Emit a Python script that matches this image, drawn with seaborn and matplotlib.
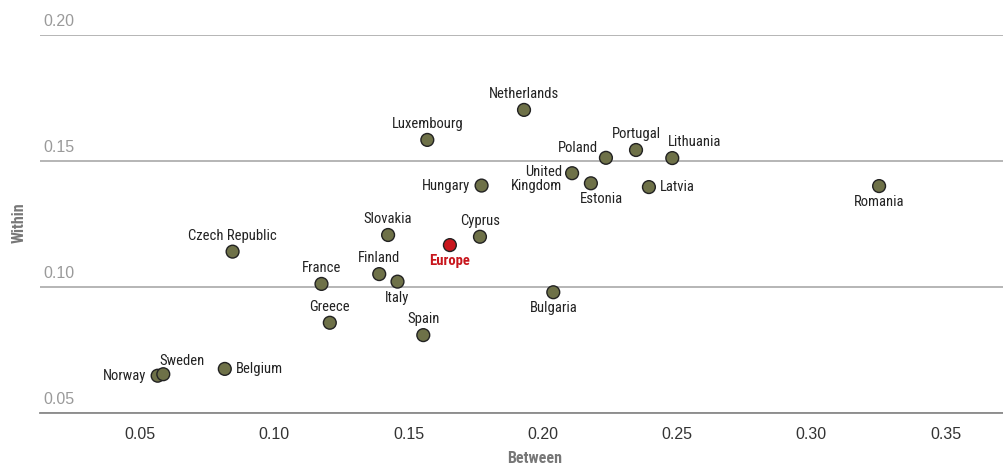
import matplotlib
matplotlib.use("Agg")
import matplotlib.pyplot as plt
import seaborn as sns
import pandas as pd

countries = ["Netherlands", "Luxembourg", "Poland", "Portugal", "Lithuania",
             "United\nKingdom", "Estonia", "Latvia", "Hungary", "Romania",
             "Slovakia", "Cyprus", "Czech Republic", "Europe", "Finland",
             "Italy", "France", "Bulgaria", "Greece", "Spain",
             "Norway", "Sweden", "Belgium"]
between = [0.193, 0.157, 0.2235, 0.2347, 0.2482,
           0.2109, 0.2179, 0.2395, 0.1772, 0.3252,
           0.1424, 0.1766, 0.0845, 0.1654, 0.1391,
           0.1459, 0.1176, 0.2039, 0.1207, 0.1555,
           0.0566, 0.0587, 0.0816]
within = [0.1703, 0.1584, 0.1513, 0.1544, 0.1512,
          0.1452, 0.1412, 0.1397, 0.1403, 0.1401,
          0.1207, 0.1200, 0.1141, 0.1167, 0.1052,
          0.1022, 0.1013, 0.0980, 0.0859, 0.0810,
          0.0649, 0.0655, 0.0676]
placement = ["above", "above", "upleft", "above", "upright",
             "uk", "estonia", "right", "left", "below",
             "above", "above", "above", "below", "above",
             "below", "above", "below", "above", "above",
             "left", "sweden", "right"]
y_ticks = [0.05, 0.10, 0.15, 0.20]
x_ticks = [0.05, 0.10, 0.15, 0.20, 0.25, 0.30, 0.35]

df = pd.DataFrame({"country": countries, "Between": between, "Within": within})
df["group"] = ["Europe" if c == "Europe" else "Country" for c in countries]

sns.set_theme(style="white")
cond = ["Roboto Condensed", "Archivo Narrow", "PT Sans Narrow", "DejaVu Sans"]
plt.rcParams["font.family"] = ["Liberation Sans", "DejaVu Sans"]

fig = plt.figure(figsize=(10.04, 4.66), dpi=100)
ax = fig.add_axes([40 / 1004, (466 - 413.3) / 466, 964 / 1004, (413.3 - 35) / 466])

olive = "#6e7148"
red = "#c8161d"
sns.scatterplot(data=df, x="Between", y="Within", hue="group",
                palette={"Country": olive, "Europe": red},
                s=85, edgecolor="#222222", linewidth=1.0, legend=False,
                ax=ax, zorder=3, clip_on=False)

ax.set_xlim(0.0128, 0.3717)
ax.set_ylim(0.05, 0.20)
ax.set_yticks(y_ticks)
ax.set_yticklabels([])
ax.tick_params(axis="y", length=0)
ax.set_xticks(x_ticks)
ax.set_xticklabels([f"{v:.2f}" for v in x_ticks], fontsize=11.5, color="#333333")
ax.tick_params(axis="x", length=0, pad=10)
ax.grid(axis="y", color="#b0b0b0", linewidth=1.3)
ax.grid(axis="x", visible=False)
for s in ["top", "right", "left"]:
    ax.spines[s].set_visible(False)
ax.spines["bottom"].set_color("#8a8a8a")
ax.spines["bottom"].set_linewidth(1.3)

ytr = ax.get_yaxis_transform()
for v in y_ticks:
    ax.annotate(f"{v:.2f}", xy=(0, v), xycoords=ytr, xytext=(3, 6),
                textcoords="offset pixels", ha="left", va="bottom",
                fontsize=11.5, color="#9a9a9a")

ax.set_xlabel("Between", fontsize=11.5, fontweight="bold", color="#777777",
              family=cond)
ax.xaxis.set_label_coords((535 - 40) / 964, -(451 - 413.3) / 378.3)
ax.set_ylabel("Within", fontsize=11.5, fontweight="bold", color="#777777",
              family=cond)
ax.yaxis.set_label_coords(-(40 - 27) / 964, (413.3 - 223) / 378.3)

offsets = {
    "above": ((0, 16), "center", "center"),
    "below": ((0, -16), "center", "center"),
    "left": ((-11, 0), "right", "center"),
    "right": ((11, 0), "left", "center"),
    "upleft": ((-8, 10), "right", "center"),
    "upright": ((-4, 16), "left", "center"),
    "uk": ((-10, 8), "right", "top"),
    "estonia": ((11, -16), "center", "center"),
    "sweden": ((-4, 13), "left", "center"),
}
for c, x, y, p in zip(countries, between, within, placement):
    (dx, dy), ha, va = offsets[p]
    is_eu = c == "Europe"
    ax.annotate(c, xy=(x, y), xytext=(dx, dy), textcoords="offset pixels",
                ha=ha, va=va, fontsize=10.5, family=cond,
                color=red if is_eu else "#222222",
                fontweight="bold" if is_eu else "normal",
                linespacing=1.0, zorder=4)

fig.savefig("out.png", dpi=100)
